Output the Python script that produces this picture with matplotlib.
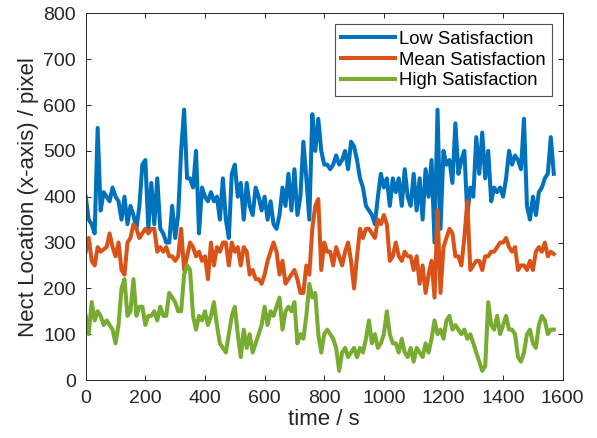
import numpy as np
import matplotlib

matplotlib.use("Agg")
import matplotlib.pyplot as plt

plt.rcParams["font.family"] = ["Liberation Sans", "DejaVu Sans"]

# time axis, 10 s steps
time_s = list(range(0, 1580, 10))

low_sat = [
    400, 350, 340, 320, 550, 370, 410, 400, 390, 420,
    400, 390, 350, 400, 340, 380, 360, 330, 380, 470,
    480, 330, 430, 340, 440, 330, 320, 300, 300, 380,
    310, 360, 500, 590, 440, 440, 420, 500, 320, 420,
    400, 390, 410, 390, 400, 350, 440, 350, 310, 450,
    470, 400, 430, 350, 430, 380, 360, 420, 400, 370,
    400, 350, 390, 340, 330, 360, 420, 380, 450, 370,
    460, 360, 400, 520, 440, 350, 580, 500, 570, 500,
    470, 470, 460, 470, 490, 470, 480, 500, 460, 520,
    510, 480, 440, 420, 380, 370, 360, 340, 400, 450,
    420, 440, 380, 440, 410, 440, 380, 460, 400, 380,
    450, 370, 440, 350, 460, 400, 480, 300, 590, 330,
    500, 470, 480, 430, 560, 450, 480, 500, 360, 420,
    400, 530, 450, 540, 440, 500, 390, 420, 410, 420,
    400, 440, 500, 470, 490, 480, 460, 570, 380, 350,
    400, 360, 410, 420, 440, 450, 530, 450,
]

mean_sat = [
    280, 310, 260, 250, 290, 280, 285, 290, 320, 290,
    270, 300, 240, 230, 300, 310, 340, 330, 310, 320,
    330, 320, 330, 330, 280, 290, 280, 290, 270, 270,
    260, 270, 330, 240, 270, 300, 290, 270, 280, 260,
    270, 220, 300, 250, 290, 280, 300, 300, 250, 300,
    280, 290, 250, 290, 280, 230, 240, 220, 220, 210,
    230, 260, 280, 300, 280, 230, 260, 210, 220, 230,
    240, 220, 190, 190, 250, 230, 330, 380, 395, 240,
    300, 280, 280, 250, 290, 270, 250, 280, 300, 260,
    200, 270, 330, 310, 330, 330, 320, 310, 350, 340,
    360, 340, 260, 270, 300, 270, 260, 280, 270, 270,
    240, 270, 210, 250, 190, 230, 260, 180, 370, 190,
    290, 310, 330, 320, 270, 270, 250, 310, 390, 240,
    250, 260, 260, 240, 270, 270, 280, 280, 290, 300,
    300, 310, 290, 280, 290, 240, 250, 250, 240, 260,
    240, 280, 290, 280, 300, 270, 280, 275,
]

high_sat = [
    140, 100, 170, 130, 150, 140, 120, 130, 120, 110,
    80, 120, 200, 220, 140, 150, 220, 140, 160, 160,
    120, 140, 140, 150, 130, 160, 140, 140, 190, 180,
    170, 150, 150, 230, 250, 240, 140, 110, 140, 130,
    150, 120, 140, 170, 120, 80, 70, 60, 100, 140,
    160, 100, 50, 110, 70, 100, 60, 80, 100, 120,
    160, 120, 150, 140, 160, 180, 110, 150, 160, 150,
    170, 80, 100, 90, 140, 210, 180, 190, 100, 60,
    100, 110, 100, 90, 70, 20, 60, 70, 50, 60,
    70, 50, 70, 60, 90, 130, 80, 100, 70, 80,
    100, 150, 100, 80, 80, 60, 90, 60, 50, 70,
    40, 70, 60, 50, 80, 60, 90, 130, 100, 110,
    90, 130, 140, 110, 120, 110, 100, 110, 90, 100,
    80, 60, 40, 20, 30, 170, 120, 110, 140, 100,
    120, 140, 110, 110, 100, 50, 40, 60, 100, 110,
    80, 70, 120, 140, 130, 100, 110, 110,
]

fig = plt.figure(figsize=(5.97, 4.38), dpi=100)
ax = fig.add_axes([0.1436, 0.1324, 0.799, 0.837])

ax.plot(time_s, low_sat, color="#0072BD", lw=2.9, label="Low Satisfaction")
ax.plot(time_s, mean_sat, color="#D95319", lw=2.9, label="Mean Satisfaction")
ax.plot(time_s, high_sat, color="#77AC30", lw=2.9, label="High Satisfaction")

ax.set_xlim(0, 1600)
ax.set_ylim(0, 800)
ax.set_xticks(range(0, 1601, 200))
ax.set_yticks(range(0, 801, 100))
ax.tick_params(direction="in", top=True, right=True, labelsize=14,
               colors="#262626", length=3.6, width=0.7)
ax.tick_params(axis="x", pad=7.5)
ax.tick_params(axis="y", pad=7)
for s in ax.spines.values():
    s.set_color("#262626")
    s.set_linewidth(0.7)

ax.set_xlabel("time / s", fontsize=16, color="#262626", labelpad=1)
ax.set_ylabel("Nect Location (x-axis) / pixel", fontsize=16, color="#262626",
              labelpad=3)

leg = ax.legend(loc="upper right", fontsize=13.3, frameon=True, fancybox=False,
                borderpad=0.35, labelspacing=0.2, handlelength=2.9,
                handletextpad=0.2, borderaxespad=0.6)
leg.get_frame().set_edgecolor("#262626")
leg.get_frame().set_linewidth(0.8)

fig.savefig("out.png", dpi=100)
